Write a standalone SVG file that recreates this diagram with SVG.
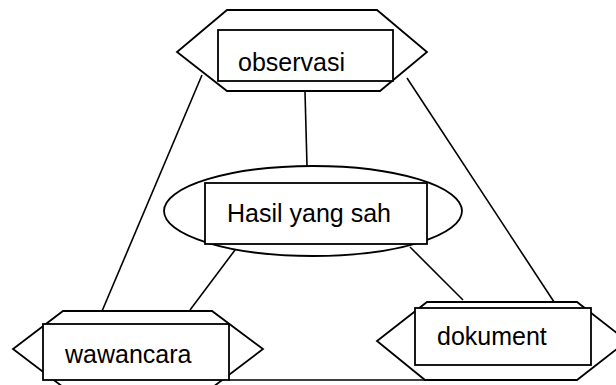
<svg xmlns="http://www.w3.org/2000/svg" width="616" height="385" viewBox="0 0 616 385">
<style>
.s{fill:#fff;stroke:#000;stroke-width:1.8}
.c{fill:none;stroke:#000;stroke-width:1.6}
.t{font-family:"Liberation Sans",Arial,sans-serif;font-size:25px;fill:#000}
</style>
<rect width="616" height="385" fill="#fff"/>
<g id="connectors">
<line class="c" x1="202" y1="75" x2="97" y2="323"/>
<line class="c" x1="305" y1="92" x2="307" y2="166"/>
<line class="c" x1="407" y1="78" x2="558" y2="308"/>
<line class="c" x1="238" y1="246" x2="190" y2="310"/>
<line class="c" x1="410" y1="247" x2="463" y2="300"/>
<line class="c" x1="229" y1="380" x2="426" y2="380"/>
</g>
<g id="observasi">
<polygon class="s" points="227,10 377,10 427,52 380,91 227,91 177,52"/>
<rect class="s" x="218" y="30" width="175" height="51"/>
<text class="t" x="238" y="71">observasi</text>
</g>
<g id="hasil">
<ellipse class="s" cx="313" cy="211" rx="149" ry="45"/>
<rect class="s" x="205" y="183" width="222" height="61"/>
<text class="t" x="227" y="222">Hasil yang sah</text>
</g>
<g id="wawancara">
<polygon class="s" points="63,311 212,311 263,349 213,387 63,387 13,349"/>
<rect class="s" x="43" y="324" width="186" height="56"/>
<text class="t" x="65" y="363">wawancara</text>
</g>
<g id="dokument">
<polygon class="s" points="427,302 577,302 627,341 577,380 425,380 377,341"/>
<rect class="s" x="415" y="308" width="176" height="57"/>
<text class="t" x="437" y="345">dokument</text>
</g>
</svg>
